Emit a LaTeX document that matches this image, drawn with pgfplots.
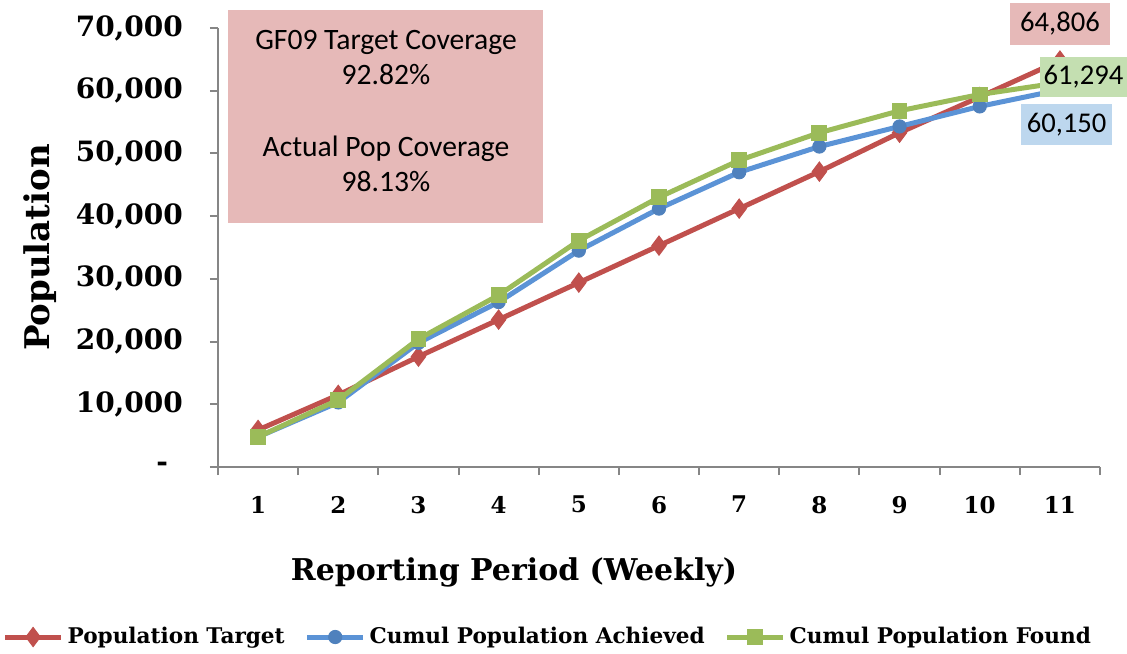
\documentclass[border=0pt]{standalone}
\usepackage{pgfplots}
\pgfplotsset{compat=1.18}
\usepackage{fontspec}
\setmainfont{DejaVu Serif}
\newfontfamily\calfont{Carlito}
\definecolor{cred}{HTML}{C0504D}
\definecolor{cblue}{HTML}{4F81BD}
\definecolor{cbluel}{HTML}{5B93D6}
\definecolor{cgreen}{HTML}{9BBB59}
\definecolor{axgray}{HTML}{868686}
\definecolor{boxred}{HTML}{E6B9B8}
\definecolor{boxgreen}{HTML}{C4DFB1}
\definecolor{boxblue}{HTML}{BDD7EE}
\begin{document}
\begin{tikzpicture}
\path[use as bounding box] (-109pt,-93pt) rectangle (454.5pt,233.5pt);
\begin{axis}[
  scale only axis,
  width=441pt, height=219.5pt,
  at={(0,0)}, anchor=south west,
  xmin=0.5, xmax=11.5, ymin=0, ymax=70000,
  clip=false,
  scaled y ticks=false,
  axis x line*=bottom, axis y line*=left,
  axis line style={axgray, line width=1pt},
  xtick={1,...,11},
  xticklabels={1,2,3,4,5,6,7,8,9,10,11},
  major x tick style={draw=none},
  minor xtick={0.5,1.5,...,11.5},
  minor x tick style={axgray, line width=1pt},
  minor tick length=4pt,
  ytick={0,10000,20000,30000,40000,50000,60000,70000},
  yticklabels={{-\rule{7.5pt}{0pt}},{10,000},{20,000},{30,000},{40,000},{50,000},{60,000},{70,000}},
  major y tick style={axgray, line width=1pt},
  major tick length=4pt,
  tick align=outside,
  xticklabel style={font=\fontsize{11.5}{12}\selectfont\bfseries},
  yticklabel style={font=\fontsize{14}{15}\selectfont\bfseries},
  xticklabel shift=7pt,
  yticklabel shift=10pt,
  legend columns=3,
  legend style={draw=none, fill=none, at={(axis description cs:0.375,0)}, anchor=center, yshift=-85pt,
    font=\fontsize{10.8}{12}\selectfont\bfseries, /tikz/every even column/.append style={column sep=8pt},
    inner sep=0pt},
  legend image code/.code={\draw[mark repeat=2,mark phase=2,#1] plot coordinates {(0pt,0pt) (14pt,0pt) (28pt,0pt)};},
]
\fill[boxred] (axis cs:0.625,72875) rectangle (axis cs:4.553,38910);
\node[font=\calfont\fontsize{14.8}{17.5}\selectfont, align=center] at (axis cs:2.595,65300) {GF09 Target Coverage\\92.82\%};
\node[font=\calfont\fontsize{14.8}{17.5}\selectfont, align=center] at (axis cs:2.595,48400) {Actual Pop Coverage\\98.13\%};

\addplot[cred, line width=2.5pt, mark=diamond*, mark size=4.8pt, mark options={fill=cred, draw=cred, line width=0.5pt}] coordinates {
(1,5910) (2,11500) (3,17600) (4,23500) (5,29400) (6,35300) (7,41200) (8,47100) (9,53300) (10,59000) (11,64806)};
\addlegendentry{Population Target}
\addplot[cbluel, line width=2.5pt, mark=*, mark size=3.3pt, mark options={fill=cblue, draw=cblue, line width=0.5pt}] coordinates {
(1,4800) (2,10300) (3,19800) (4,26300) (5,34500) (6,41200) (7,47000) (8,51100) (9,54300) (10,57500) (11,60150)};
\addlegendentry{Cumul Population Achieved}
\addplot[cgreen, line width=2.5pt, mark=square*, mark size=3.7pt, mark options={fill=cgreen, draw=cgreen, line width=0.5pt}] coordinates {
(1,4800) (2,10700) (3,20400) (4,27400) (5,36100) (6,43000) (7,48900) (8,53300) (9,56800) (10,59400) (11,61294)};
\addlegendentry{Cumul Population Found}

\coordinate (lr) at (axis cs:11.0,70638);
\coordinate (lg) at (axis cs:11.294,62187);
\coordinate (lb) at (axis cs:11.083,54612);
\end{axis}
\node[fill=boxred, minimum width=50pt, minimum height=21pt, inner sep=0pt, font=\calfont\fontsize{14.3}{15}\selectfont] at (lr) {64,806};
\node[fill=boxgreen, minimum width=43.5pt, minimum height=20pt, inner sep=0pt, font=\calfont\fontsize{14.3}{15}\selectfont] at (lg) {61,294};
\node[fill=boxblue, minimum width=45.5pt, minimum height=20.5pt, inner sep=0pt, font=\calfont\fontsize{14.3}{15}\selectfont] at (lb) {60,150};
\node[rotate=90, font=\fontsize{17}{18}\selectfont\bfseries] at (-89pt,109.7pt) {Population};
\node[font=\fontsize{15}{16}\selectfont\bfseries] at (148pt,-52.5pt) {Reporting Period (Weekly)};
\end{tikzpicture}
\end{document}
